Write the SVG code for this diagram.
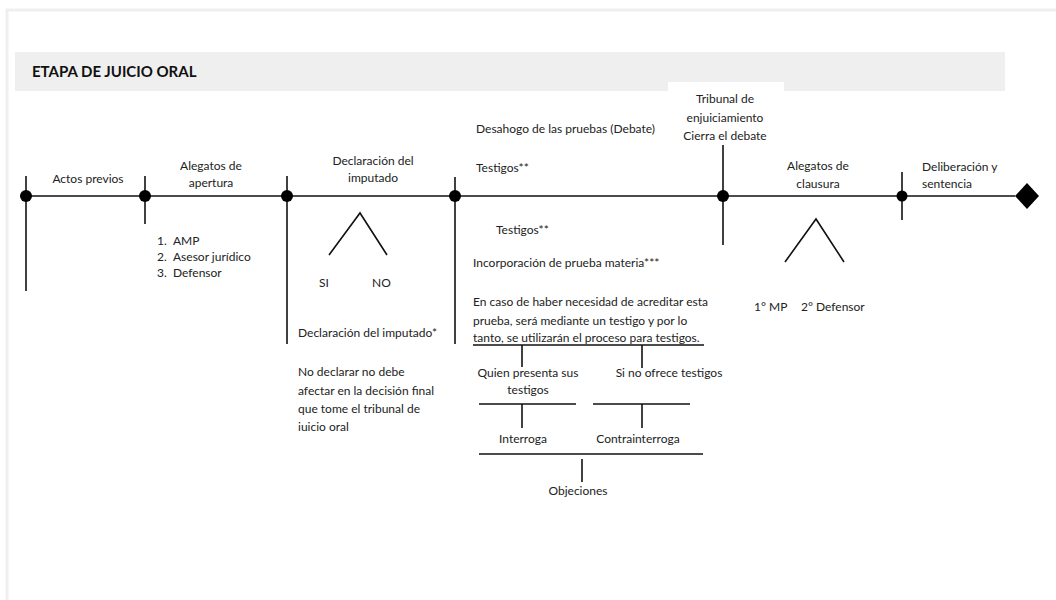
<svg xmlns="http://www.w3.org/2000/svg" width="1056" height="600" viewBox="0 0 1056 600">
  <style>
    .t { font-family: Lato, "Liberation Sans", sans-serif; font-size: 12px; fill: #222; }
    .c { text-anchor: middle; }
    .ttl { font-family: Lato, "Liberation Sans", sans-serif; font-size: 15px; font-weight: bold; fill: #111; }
    .ln { stroke: #111; stroke-width: 1.6; fill: none; }
    .dot { fill: #000; }
  </style>
  <rect width="1056" height="600" fill="#fff"/>
  <!-- page frame -->
  <path d="M7 600 V10 H1056" stroke="#efefef" stroke-width="3" fill="none"/>
  <!-- header band -->
  <rect x="15" y="52" width="990" height="39" fill="#efefef"/>
  <rect x="668" y="82" width="116" height="9" fill="#fff"/>
  <text class="ttl" x="32" y="77">ETAPA DE JUICIO ORAL</text>

  <!-- connectors -->
  <g id="connectors">
    <line class="ln" x1="20" y1="196" x2="1015" y2="196"/>
    <line class="ln" x1="26" y1="176" x2="26" y2="291"/>
    <line class="ln" x1="145" y1="176" x2="145" y2="224"/>
    <line class="ln" x1="287" y1="176" x2="287" y2="344"/>
    <line class="ln" x1="455" y1="177" x2="455" y2="344"/>
    <line class="ln" x1="723" y1="145" x2="723" y2="245"/>
    <line class="ln" x1="902" y1="172" x2="902" y2="220"/>
    <polyline class="ln" points="329,255 360,213 387,255"/>
    <polyline class="ln" points="785,262 816,219 844,262"/>
    <line class="ln" x1="473" y1="345" x2="704" y2="345"/>
    <line class="ln" x1="522" y1="345" x2="522" y2="367"/>
    <line class="ln" x1="642" y1="345" x2="642" y2="368"/>
    <line class="ln" x1="479" y1="404" x2="576" y2="404"/>
    <line class="ln" x1="593" y1="404" x2="690" y2="404"/>
    <line class="ln" x1="522" y1="404" x2="522" y2="428"/>
    <line class="ln" x1="642" y1="404" x2="642" y2="428"/>
    <line class="ln" x1="479" y1="454" x2="703" y2="454"/>
    <line class="ln" x1="582" y1="459" x2="582" y2="482"/>
  </g>

  <g id="n-actos">
    <circle class="dot" cx="26" cy="196" r="6"/>
    <text class="t c" x="88" y="183">Actos previos</text>
  </g>
  <g id="n-apertura">
    <circle class="dot" cx="145" cy="196" r="6"/>
    <text class="t c" x="211" y="170">Alegatos de</text>
    <text class="t c" x="211" y="187">apertura</text>
    <text class="t" x="157" y="245">1.</text><text class="t" x="173" y="245">AMP</text>
    <text class="t" x="157" y="261">2.</text><text class="t" x="173" y="261">Asesor jurídico</text>
    <text class="t" x="157" y="277">3.</text><text class="t" x="173" y="277">Defensor</text>
  </g>
  <g id="n-declaracion">
    <circle class="dot" cx="287" cy="196" r="6"/>
    <text class="t c" x="373" y="165">Declaración del</text>
    <text class="t c" x="373" y="182">imputado</text>
    <text class="t" x="319" y="287">SI</text>
    <text class="t" x="372" y="287">NO</text>
    <text class="t" x="298" y="337">Declaración del imputado*</text>
    <text class="t" x="298" y="376">No declarar no debe</text>
    <text class="t" x="298" y="395">afectar en la decisión final</text>
    <text class="t" x="298" y="413">que tome el tribunal de</text>
    <text class="t" x="298" y="431">iuicio oral</text>
  </g>
  <g id="n-pruebas">
    <circle class="dot" cx="455" cy="196" r="6"/>
    <text class="t" x="476" y="133">Desahogo de las pruebas (Debate)</text>
    <text class="t" x="476" y="172">Testigos**</text>
    <text class="t" x="496" y="234">Testigos**</text>
    <text class="t" x="473" y="267">Incorporación de prueba materia***</text>
    <text class="t" x="473" y="306">En caso de haber necesidad de acreditar esta</text>
    <text class="t" x="473" y="325">prueba, será mediante un testigo y por lo</text>
    <text class="t" x="473" y="342">tanto, se utilizarán el proceso para testigos.</text>
    <text class="t c" x="528" y="377">Quien presenta sus</text>
    <text class="t c" x="528" y="394">testigos</text>
    <text class="t c" x="669" y="377">Si no ofrece testigos</text>
    <text class="t c" x="523" y="443">Interroga</text>
    <text class="t c" x="638" y="443">Contrainterroga</text>
    <text class="t c" x="578" y="495">Objeciones</text>
  </g>
  <g id="n-tribunal">
    <circle class="dot" cx="723" cy="196" r="6"/>
    <text class="t c" x="725" y="103">Tribunal de</text>
    <text class="t c" x="725" y="122">enjuiciamiento</text>
    <text class="t c" x="725" y="140">Cierra el debate</text>
  </g>
  <g id="n-clausura">
    <text class="t c" x="818" y="170">Alegatos de</text>
    <text class="t c" x="818" y="188">clausura</text>
    <text class="t" x="754" y="311">1° MP</text>
    <text class="t" x="801" y="311">2° Defensor</text>
  </g>
  <g id="n-deliberacion">
    <circle class="dot" cx="902" cy="196" r="5.5"/>
    <text class="t" x="922" y="171">Deliberación y</text>
    <text class="t" x="922" y="188">sentencia</text>
  </g>
  <g id="n-fin">
    <polygon class="dot" points="1027,183 1039,196 1027,209 1015,196"/>
  </g>
</svg>
